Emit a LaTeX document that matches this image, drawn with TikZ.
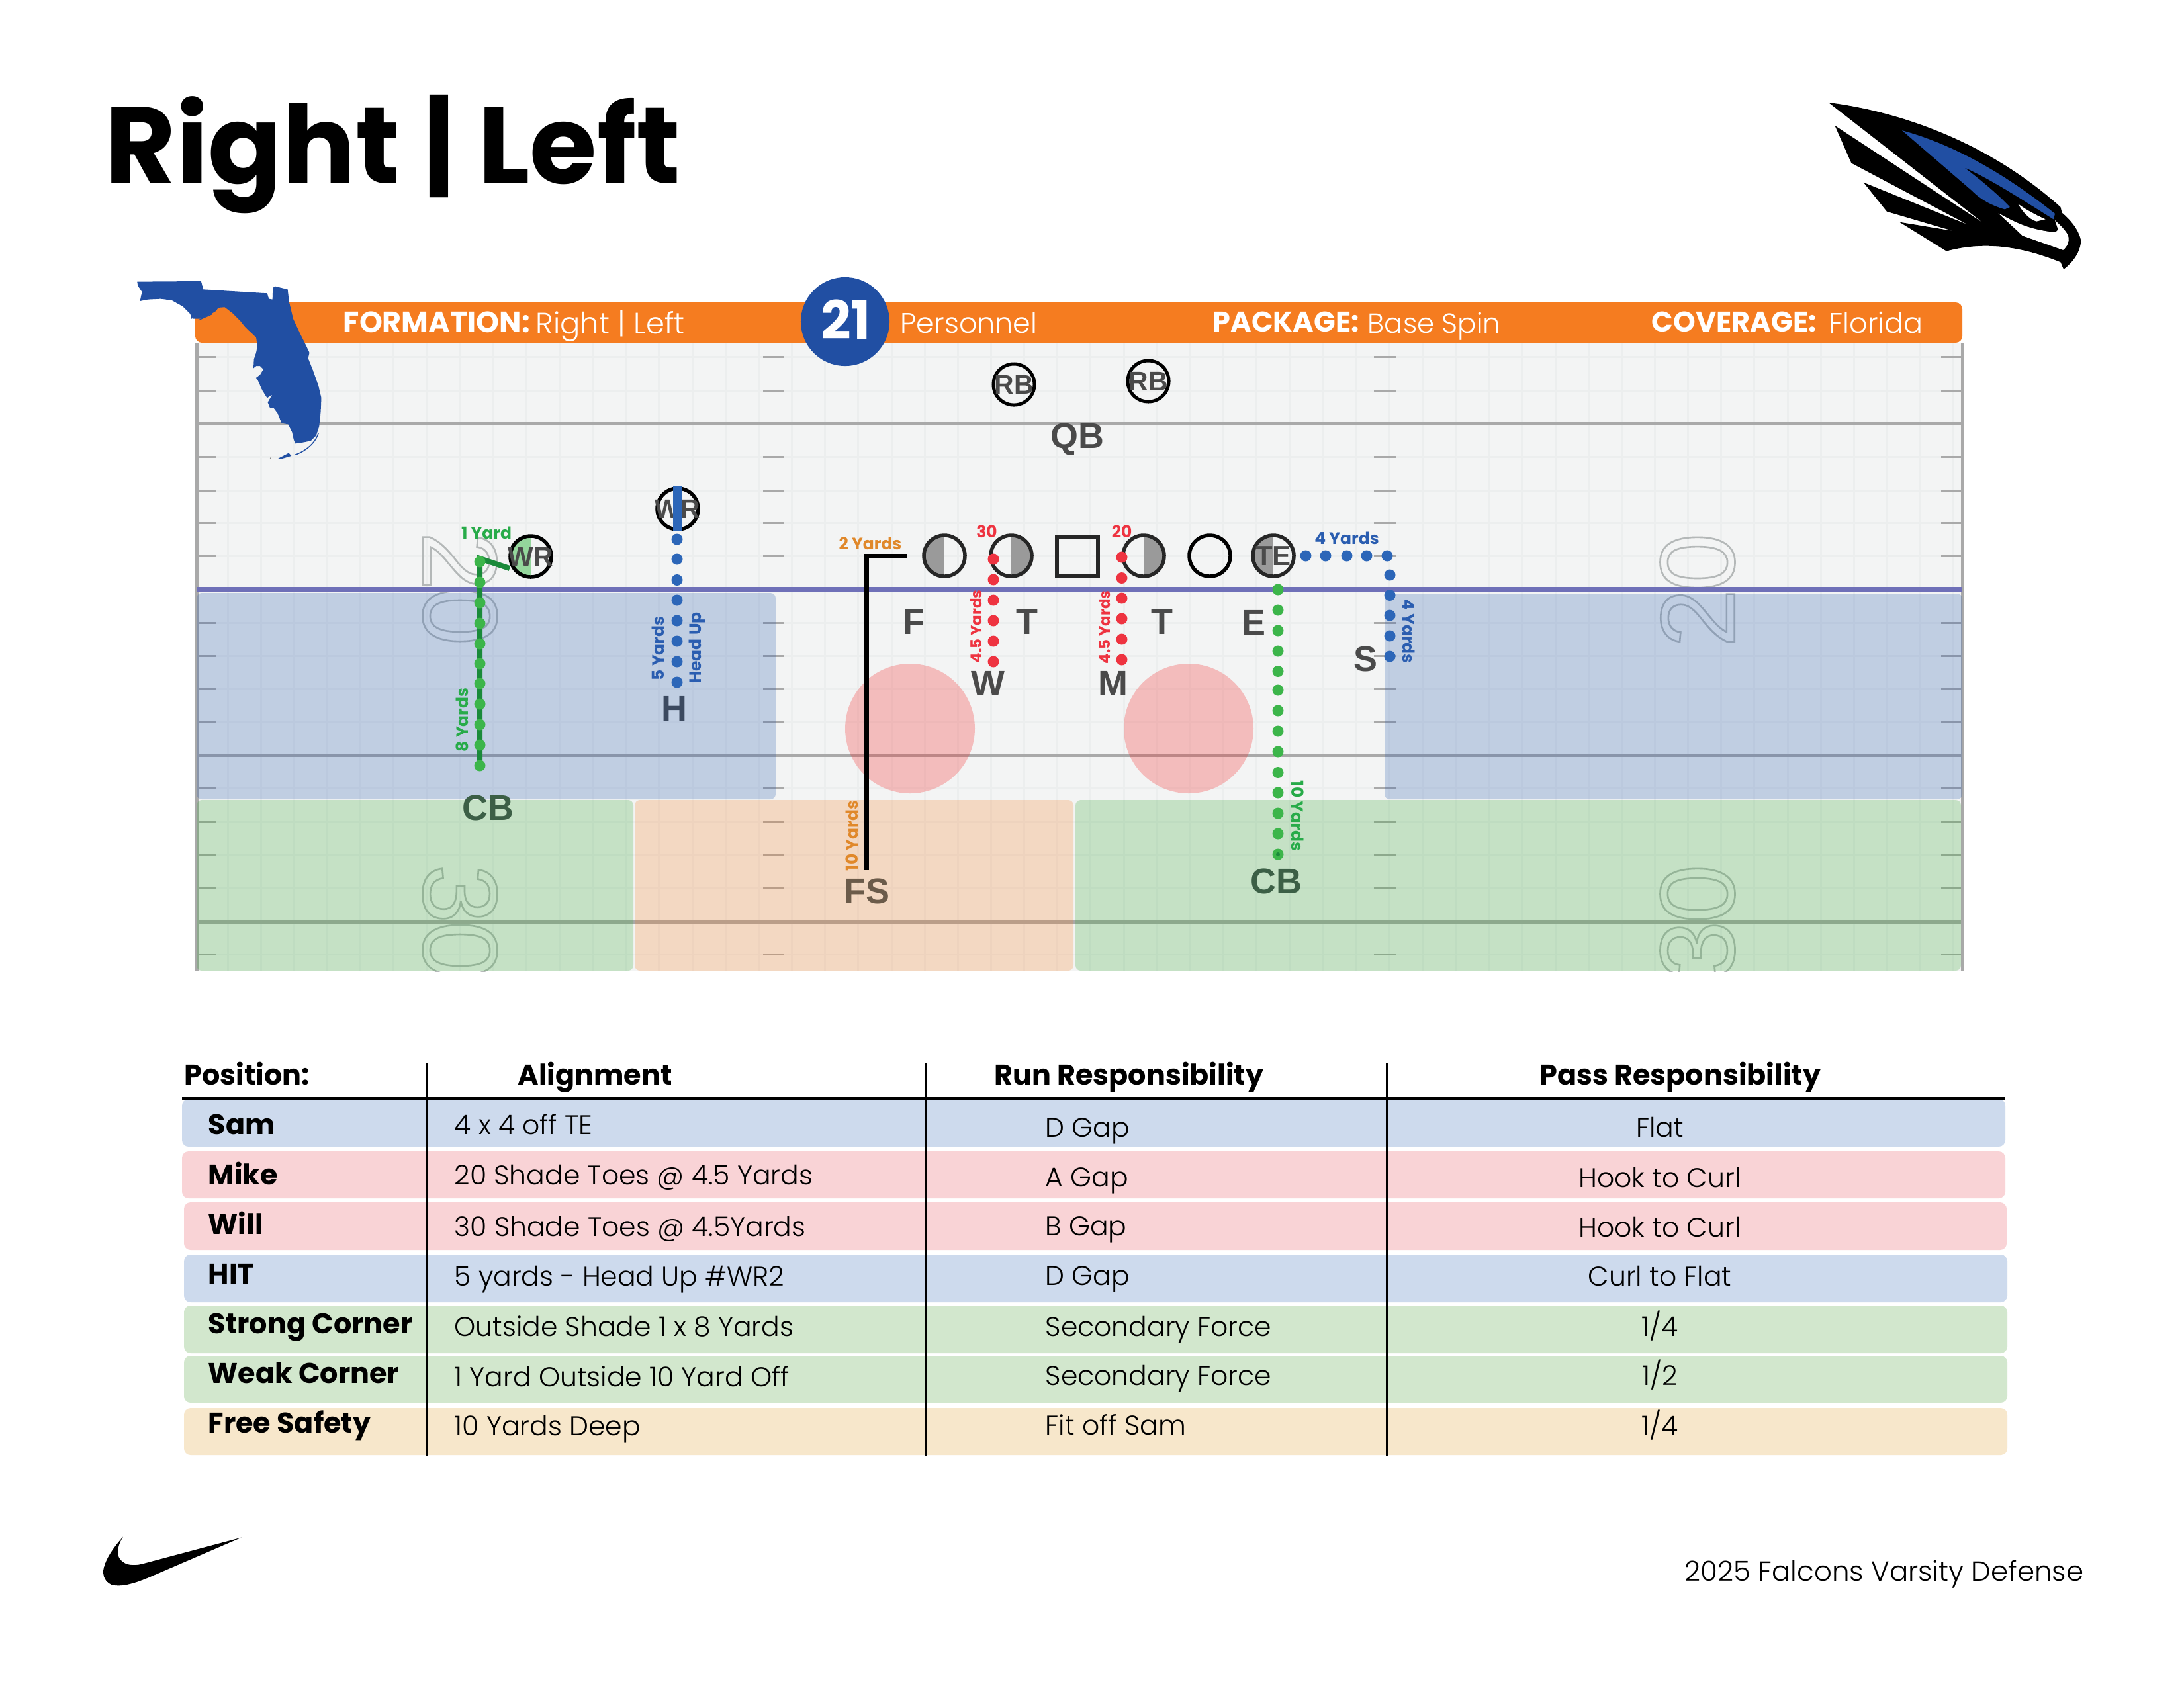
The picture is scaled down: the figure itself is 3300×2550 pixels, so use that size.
\documentclass[tikz,border=0pt]{standalone}
\usepackage{fontspec}
\setmainfont{Poppins}
\newfontfamily\arl{Liberation Sans}
\newfontfamily\pl{Poppins}[UprightFont=* Light,BoldFont=Poppins Bold]
\usetikzlibrary{calc}
\newcommand\fs[1]{\fontsize{\fpeval{#1*0.2838}pt}{\fpeval{#1*0.34}pt}\selectfont}
\newcommand\outl[1]{\special{pdf:code q 1 Tr 0.75 w}#1\special{pdf:code Q}}
\definecolor{fieldbg}{HTML}{F3F4F4}
\definecolor{gridc}{HTML}{ECEEEE}
\definecolor{major}{HTML}{A9A9A9}
\definecolor{los}{HTML}{6F70B8}
\definecolor{bar}{HTML}{F57C20}
\definecolor{fla}{HTML}{214FA3}
\definecolor{dkblue}{HTML}{2A5DB0}
\definecolor{dotblue}{HTML}{2C66B8}
\definecolor{dkgreen}{HTML}{1A8A3A}
\definecolor{dotgreen}{HTML}{3CB54A}
\definecolor{zonegreen}{RGB}{60,170,60}
\definecolor{zonered}{RGB}{245,40,40}
\definecolor{txtgreen}{HTML}{27AB49}
\definecolor{red1}{HTML}{EE3340}
\definecolor{orng}{HTML}{E0882A}
\definecolor{lab}{HTML}{4A4A4A}
\definecolor{halfg}{HTML}{9A9A9A}
\definecolor{numc}{HTML}{B4B8B8}
\definecolor{rowb}{HTML}{CDDAED}
\definecolor{rowr}{HTML}{F9D3D6}
\definecolor{rowg}{HTML}{D2E7CD}
\definecolor{rowp}{HTML}{F7E7CB}
\tikzset{
  x=0.01cm,y=-0.01cm,
  tick/.style={draw=major,line width=0.03cm},
  gridln/.style={draw=gridc,line width=0.03cm},
  majorln/.style={draw=major,line width=0.05cm},
  zone/.style={rounded corners=0.08cm},
  player/.style={circle,draw=black,line width=0.055cm,minimum size=0.62cm,inner sep=0pt},
  halfL/.style={path picture={\fill[#1] (path picture bounding box.south west) rectangle (path picture bounding box.north);}},
  halfR/.style={path picture={\fill[#1] (path picture bounding box.south east) rectangle (path picture bounding box.north);}},
  plabel/.style={inner sep=0pt,font=\arl\bfseries\fs{41},text=lab},
  flabel/.style={inner sep=0pt,font=\arl\bfseries\fs{54},text=lab},
  dot/.style={circle,inner sep=0pt,minimum size=0.17cm,fill=#1},
  small/.style={inner sep=0pt,font=\bfseries\fs{25}},
  smaller/.style={inner sep=0pt,font=\bfseries\fs{23}},
  bartext/.style={inner sep=0pt,anchor=mid west,text=white},
  hd/.style={inner sep=0pt,font=\bfseries\fs{43}},
  nm/.style={inner sep=0pt,anchor=mid west,font=\bfseries\fs{43}},
  cell/.style={inner sep=0pt,font=\pl\fs{41}},
  rowbar/.style={rounded corners=0.1cm},
  numb/.style={inner sep=0pt,font=\arl\fs{160}},
  vline/.style={draw=black,line width=0.04cm},
}
\begin{document}
\begin{tikzpicture}
\useasboundingbox (0,0) rectangle (3300,2550);
\fill[white] (0,0) rectangle (3300,2550);
% field
\fill[fieldbg] (297,518) rectangle (2965,1468);
\foreach \k in {0,...,52}{\draw[gridln] ({344+50.15*\k},518) -- ({344+50.15*\k},1468);}
\foreach \y in {539,590,640,690,741,790,840,891,941,991,1041,1091,1141,1191,1242,1292,1342,1393,1442}{
  \draw[gridln] (297,\y) -- (2965,\y);}
\foreach \y in {539,590,690,741,790,840,941,991,1041,1091,1191,1242,1292,1342,1442}{
  \draw[tick] (297,\y) -- (327,\y);
  \draw[tick] (1153,\y) -- (1185,\y);
  \draw[tick] (2076,\y) -- (2110,\y);
  \draw[tick] (2933,\y) -- (2965,\y);}
\foreach \y in {640,1141,1393}{\draw[majorln] (297,\y) -- (2965,\y);}
\draw[majorln] (297,518) -- (297,1468);
\draw[majorln] (2965,518) -- (2965,1468);
% numerals
\begin{scope}
\clip (297,518) rectangle (2965,1468);
\color{numc}
\node[numb,rotate=-90] (n2a) at (695,848) {\outl{2}};
\node[numb,rotate=-90] (n0a) at (695,931) {\outl{0}};
\node[numb,rotate=-90] (n3a) at (695,1351) {\outl{3}};
\node[numb,rotate=-90] (n0b) at (695,1436) {\outl{0}};
\node[numb,rotate=90] (n0c) at (2565,850) {\outl{0}};
\node[numb,rotate=90] (n2c) at (2565,934) {\outl{2}};
\node[numb,rotate=90] (n0d) at (2565,1351) {\outl{0}};
\node[numb,rotate=90] (n3d) at (2565,1436) {\outl{3}};
\end{scope}
% zones
\fill[zone,dkblue,fill opacity=.25] (297,896) rectangle (1172,1208);
\fill[zone,dkblue,fill opacity=.25] (2092,897) rectangle (2965,1208);
\fill[zone,zonegreen,fill opacity=.25] (297,1209) rectangle (957,1467);
\fill[zone,bar,fill opacity=.23] (959,1209) rectangle (1622,1467);
\fill[zone,zonegreen,fill opacity=.25] (1625,1209) rectangle (2963,1467);
\fill[zonered,fill opacity=.27] (1375,1101) circle[radius=98];
\fill[zonered,fill opacity=.27] (1796,1101) circle[radius=98];
\draw[los,line width=0.08cm] (297,891) -- (2965,891);
% orange bar
\fill[bar,rounded corners=0.1cm] (295,457) rectangle (2965,518);
% Florida
\begin{scope}[shift={(180,410)},x=0.00333cm,y=-0.00333cm]
\fill[fla] (82,47) -- (372,45) -- (382,82) -- (672,100) -- (680,125) -- (696,128) -- (698,75) -- (708,68) -- (765,82) -- (772,140) -- (790,215) -- (820,280) -- (850,340) -- (864,370) -- (858,395) -- (880,450) -- (905,520) -- (918,575) -- (915,640) -- (908,705) -- (895,745) -- (870,770) -- (830,778) -- (800,782) -- (793,765) -- (785,730) -- (768,695) -- (738,690) -- (720,645) -- (700,618) -- (685,620) -- (675,595) -- (695,560) -- (672,575) -- (650,540) -- (630,495) -- (620,485) -- (640,470) -- (655,445) -- (640,430) -- (622,430) -- (610,440) -- (612,400) -- (622,370) -- (628,340) -- (622,300) -- (590,270) -- (570,250) -- (550,225) -- (515,190) -- (480,163) -- (450,165) -- (440,180) -- (415,195) -- (375,215) -- (345,215) -- (335,215) -- (320,190) -- (290,160) -- (240,132) -- (190,125) -- (130,128) -- (95,135) -- (100,110) -- (105,95) -- (85,65) -- cycle;
\fill[fla] (722,850) -- (770,825) -- (782,838) -- (735,852) -- cycle;
\draw[fla,line width=0.015cm] (800,833) .. controls (850,815) and (890,780) .. (905,735);
\draw[fla,line width=0.012cm] (325,190) -- (330,215);
\draw[fla,line width=0.012cm] (360,222) -- (420,195);
\fill[gray] (688,848) circle[radius=3];
\end{scope}
% bar text
\node[bartext,font=\bfseries\fs{44.5}] (t1) at (518,493) {FORMATION:};
\node[bartext,font=\pl\fs{45}] (t2) at (809,495) {Right | Left};
\node[bartext,font=\pl\fs{43}] (t3) at (1360,494) {Personnel};
\node[bartext,font=\bfseries\fs{43}] (t4) at (1832,492) {PACKAGE:};
\node[bartext,font=\pl\fs{42}] (t5) at (2066,494) {Base Spin};
\node[bartext,font=\bfseries\fs{43}] (t6) at (2495,492) {COVERAGE:};
\node[bartext,font=\pl\fs{43}] (t7) at (2763,494) {Florida};
\node[circle,fill=fla,minimum size=1.34cm,inner sep=0pt] (pers) at (1277,486) {};
\node[inner sep=0pt,text=white,font=\bfseries\fs{80}] (perst) at (1278,483) {21};
% routes under players
\coordinate (gA) at (770,859);
\coordinate (gB) at (725,844);
\coordinate (gC) at (725,1157);
\draw[dkgreen,line width=0.08cm] (gA) -- (gB) -- (gC);
\coordinate (fA) at (1370,840);
\coordinate (fB) at (1309,840);
\coordinate (fC) at (1309,1315);
\draw[black,line width=0.07cm,line join=miter] (fA) -- (fB) -- (fC);
% players
\node[player,halfL={dotgreen!55}] (wrA) at (802,841) {};
\node[plabel] (wrAt) at (802,841) {WR};
\node[player] (wrB) at (1024,769) {};
\node[plabel] (wrBt) at (1024,769) {WR};
\draw[dotblue,line width=0.14cm] (wrB.north) -- (wrB.south);
\node[player,line width=0.05cm] (rb1) at (1532,581) {};
\node[plabel] (rb1t) at (1532,581) {RB};
\node[player,line width=0.05cm] (rb2) at (1735,576) {};
\node[plabel] (rb2t) at (1735,576) {RB};
\node[player,draw=black!85,halfL=halfg] (p1) at (1427,840) {};
\node[player,draw=black!85,halfR=halfg] (p2) at (1528,840) {};
\node[draw=black!85,line width=0.055cm,minimum width=0.62cm,minimum height=0.6cm,inner sep=0pt] (ctr) at (1628,841) {};
\node[player,draw=black!85,halfR=halfg] (p3) at (1728,840) {};
\node[player] (p4) at (1828,840) {};
\node[player,draw=black!85,halfL=halfg] (te) at (1924,840) {};
\node[plabel,font=\arl\bfseries\fs{42}] (tet) at (1924,840) {TE};
% dots
\foreach \y [count=\i] in {849,880,911,942,973,1003,1033,1064,1095,1126,1157}{\node[dot=dotgreen] (gd\i) at (725,\y) {};}
\foreach \y [count=\i] in {815,845,876.5,907,938,969,1000,1031}{\node[dot=dotblue] (bd\i) at (1023,\y) {};}
\foreach \y [count=\i] in {845,876,907,938,969,1000}{\node[dot=red1] (ra\i) at (1501,\y) {};}
\foreach \y [count=\i] in {842,873.5,904,935,966,997}{\node[dot=red1] (rb\i) at (1695,\y) {};}
\foreach \x [count=\i] in {1973,2003,2035,2065,2096}{\node[dot=dotblue] (sa\i) at (\x,840) {};}
\foreach \y [count=\i] in {869,899.5,930,961,992}{\node[dot=dotblue] (sb\i) at (2100,\y) {};}
\foreach \y [count=\i] in {891,922,953,984,1014.5,1043,1074,1105,1136,1167.5,1198,1229,1260,1291}{\node[dot=dotgreen] (cd\i) at (1931,\y) {};}
\fill[dkgreen] (cd14) circle[radius=3];
% small labels
\node[small,text=txtgreen] (l1) at (735,805) {1 Yard};
\node[small,text=txtgreen,rotate=90] (l2) at (698,1088) {8 Yards};
\node[small,text=dkblue,rotate=90] (l3) at (994,980) {5 Yards};
\node[small,text=dkblue,rotate=90] (l4) at (1054,979) {Head Up};
\node[small,text=orng] (l5) at (1315,821) {2 Yards};
\node[small,text=orng,rotate=90] (l6) at (1287,1263) {10 Yards};
\node[small,text=red1] (l7) at (1491,803) {30};
\node[small,text=red1] (l8) at (1695,803) {20};
\node[smaller,text=red1,rotate=90] (l9) at (1475,947) {4.5 Yards};
\node[smaller,text=red1,rotate=90] (l10) at (1669,948) {4.5 Yards};
\node[small,text=dkblue] (l11) at (2035,813) {4 Yards};
\node[small,text=dkblue,rotate=-90] (l12) at (2129,954) {4 Yards};
\node[small,text=txtgreen,rotate=-90] (l13) at (1961,1233) {10 Yards};
% field letters
\node[flabel] (QB) at (1628,664) {QB};
\node[flabel] (F) at (1381,940) {F};
\node[flabel] (T1) at (1552,940) {T};
\node[flabel] (T2) at (1756,940) {T};
\node[flabel] (E) at (1894,941) {E};
\node[flabel] (S) at (2063,996) {S};
\node[flabel] (W) at (1493,1033) {W};
\node[flabel] (M) at (1682,1033) {M};
\node[flabel,text={rgb,255:red,60;green,74;blue,96}] (H) at (1019,1071) {H};
\node[flabel,text={rgb,255:red,60;green,95;blue,70}] (CB1) at (737,1221) {CB};
\node[flabel,text={rgb,255:red,60;green,95;blue,70}] (CB2) at (1928,1332) {CB};
\node[flabel,text={rgb,255:red,107;green,91;blue,74}] (FS) at (1310,1347) {FS};
% title
\node[inner sep=0pt,anchor=mid west,font=\bfseries\fs{165}] (title) at (158,268) {Right | Left};
% falcon
\begin{scope}[shift={(2600,100)},x=0.003827cm,y=-0.003333cm]
\fill[black] (425,165) .. controls (700,205) and (1050,340) .. (1340,640) -- (1345,665) .. controls (1380,700) and (1410,740) .. (1420,790) .. controls (1420,840) and (1390,890) .. (1352,922) -- (1340,890) .. controls (1200,825) and (1050,790) .. (890,840) -- (705,708) -- (915,748) -- (655,660) -- (563,528) -- (975,720) -- (515,440) -- (450,270) -- (1035,712) -- cycle;
\fill[fla] (715,292) .. controls (900,350) and (1100,470) .. (1318,670) -- (1312,695) .. controls (1180,600) and (1060,510) .. (960,460) .. controls (1040,530) and (1100,590) .. (1140,640) -- (1120,650) .. controls (1060,630) and (1020,600) .. (990,565) -- cycle;
\fill[white] (1172,625) .. controls (1200,650) and (1250,680) .. (1280,695) -- (1245,705) .. controls (1215,695) and (1190,660) .. cycle;
\fill[white] (1095,668) .. controls (1150,700) and (1200,740) .. (1320,755) -- (1330,742) -- (1318,700) .. controls (1345,730) and (1375,760) .. (1372,790) .. controls (1370,810) and (1360,825) .. (1350,835) -- (1190,770) -- cycle;
\end{scope}
% swoosh
\begin{scope}[shift={(130,2280)},x=0.00333cm,y=-0.00333cm]
\fill[black] (168,128) .. controls (140,170) and (135,220) .. (165,240) .. controls (190,262) and (235,258) .. (270,247) -- (705,131) -- (290,310) .. controls (220,340) and (160,358) .. (115,345) .. controls (80,330) and (70,290) .. (85,255) .. controls (100,210) and (135,165) .. cycle;
\end{scope}
% table rows
\fill[rowbar,rowb] (275,1661) rectangle (3030,1733);
\fill[rowbar,rowr] (275,1740) rectangle (3030,1811);
\fill[rowbar,rowr] (278,1817) rectangle (3032,1889);
\fill[rowbar,rowb] (278,1896) rectangle (3033,1968);
\fill[rowbar,rowg] (278,1973) rectangle (3033,2045);
\fill[rowbar,rowg] (278,2049) rectangle (3033,2120);
\fill[rowbar,rowp] (278,2128) rectangle (3033,2199);
\draw[vline] (275,1660) -- (3030,1660);
\draw[vline,line width=0.035cm] (645,1606) -- (645,2200);
\draw[vline,line width=0.035cm] (1399,1606) -- (1399,2200);
\draw[vline,line width=0.035cm] (2096,1606) -- (2096,2200);
\node[hd,anchor=mid west] (h1) at (278,1630) {Position:};
\node[hd] (h2) at (899,1628) {Alignment};
\node[hd] (h3) at (1706,1628) {Run Responsibility};
\node[hd] (h4) at (2539,1628) {Pass Responsibility};
\node[nm] (a1) at (314,1705) {Sam};
\node[nm] (a2) at (314,1781) {Mike};
\node[nm] (a3) at (314,1856) {Will};
\node[nm] (a4) at (314,1931) {HIT};
\node[nm] (a5) at (314,2006) {Strong Corner};
\node[nm] (a6) at (314,2081) {Weak Corner};
\node[nm] (a7) at (314,2156) {Free Safety};
\foreach \tx/\y/\nn in {4 x 4 off TE/1705/1,20 Shade Toes @ 4.5 Yards/1781/2,30 Shade Toes @ 4.5Yards/1859/3,5 yards - Head Up \#WR2/1934/4,Outside Shade 1 x 8 Yards/2010/5,1 Yard Outside 10 Yard Off/2086/6,10 Yards Deep/2160/7}{
  \node[cell,anchor=mid west] (b\nn) at (686,\y) {\tx};}
\foreach \tx/\y/\nn in {D Gap/1709/1,A Gap/1784/2,B Gap/1858/3,D Gap/1933/4,Secondary Force/2010/5,Secondary Force/2084/6,Fit off Sam/2159/7}{
  \node[cell,anchor=mid west] (c\nn) at (1579,\y) {\tx};}
\node[cell] (d1) at (2508,1703) {Flat};
\node[cell] (d2) at (2508,1780) {Hook to Curl};
\node[cell] (d3) at (2508,1855) {Hook to Curl};
\node[cell] (d4) at (2508,1929) {Curl to Flat};
\node[cell] (d5) at (2508,2004) {1/4};
\node[cell] (d6) at (2508,2078) {1/2};
\node[cell] (d7) at (2508,2154) {1/4};
\node[inner sep=0pt,anchor=mid west,font=\pl\fs{42}] (foot) at (2545,2380) {2025 Falcons Varsity Defense};
\end{tikzpicture}
\end{document}
